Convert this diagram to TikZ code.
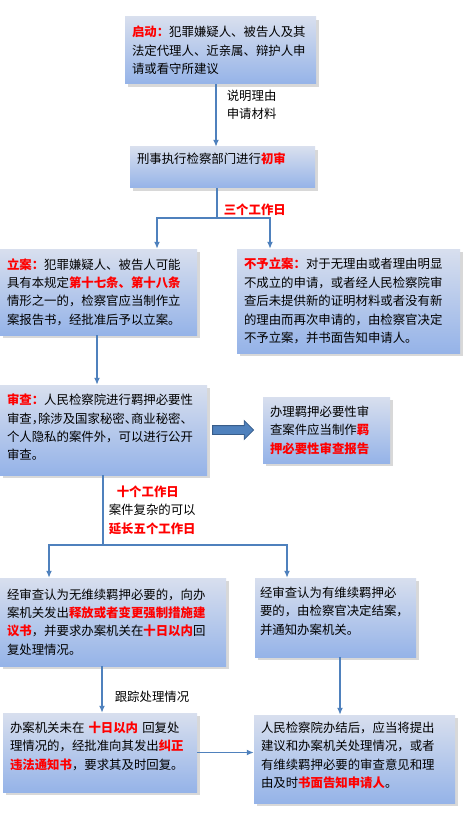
\documentclass[tikz,border=0pt]{standalone}
\usepackage{fontspec}
\setmainfont{Noto Sans CJK SC}
\usepackage{tikz}
\usetikzlibrary{arrows.meta,shapes,shadows,positioning,calc}

\definecolor{boxtop}{RGB}{216,223,238}
\definecolor{boxbot}{RGB}{149,179,232}
\definecolor{flowblue}{RGB}{79,129,189}
\definecolor{arrowedge}{RGB}{56,93,138}

\newcommand{\redb}[1]{\textcolor{red}{\textbf{#1}}}

\tikzset{
  stepbox/.style={rectangle, top color=boxtop, bottom color=boxbot,
                  drop shadow={shadow xshift=3pt, shadow yshift=-3pt, opacity=0.3},
                  inner xsep=7pt, align=left},
  flow/.style={draw=flowblue, line width=1.6pt, -{Latex[length=7pt,width=6pt]}},
  link/.style={draw=flowblue, line width=1.6pt},
  note/.style={inner sep=2pt, align=left},
  bigarrow/.style={single arrow, fill=flowblue, draw=arrowedge, line width=0.8pt,
                   inner xsep=0pt, inner ysep=4pt, text height=0pt, text depth=0pt,
                   single arrow head extend=5pt, minimum height=41pt}
}

\begin{document}
\begin{tikzpicture}[x=1pt, y=-1pt, font=\fontsize{12.4}{18.4}\selectfont]
      \fill[white] (0,0) rectangle (463,818);
      \useasboundingbox (0,0) rectangle (463,818);
      \begin{scope}
        \node[stepbox, text width=177pt, minimum height=67pt] (start) at (220.5,50.5)
          {\redb{启动：}犯罪嫌疑人、被告人及其\\法定代理人、近亲属、辩护人申\\请或看守所建议};
        \node[stepbox, text width=171pt, minimum height=41pt, text depth=18.3pt] (check) at (222.5,167.5)
          {刑事执行检察部门进行\redb{初审}};
        \node[stepbox, text width=183pt, minimum height=86pt] (file) at (98.5,292)
          {\redb{立案：}犯罪嫌疑人、被告人可能\\具有本规定\redb{第十七条、第十八条}\\情形之一的，检察官应当制作立\\案报告书，经批准后予以立案。};
        \node[stepbox, text width=209pt, minimum height=104pt] (reject) at (348.5,301)
          {\redb{不予立案：}对于无理由或者理由明显\\不成立的申请，或者经人民检察院审\\查后未提供新的证明材料或者没有新\\的理由而再次申请的，由检察官决定\\不予立案，并书面告知申请人。};
        \node[stepbox, text width=193pt, minimum height=90pt, text depth=61.5pt] (review) at (103.5,430)
          {\redb{审查：}人民检察院进行羁押必要性\\审查{\addfontfeature{RawFeature=+halt}，}除涉及国家秘密{\addfontfeature{RawFeature=+halt}、}商业秘密{\addfontfeature{RawFeature=+halt}、}\\个人隐私的案件外，可以进行公开\\审查。};
        \node[stepbox, text width=113pt, minimum height=66pt] (report) at (326.5,430)
          {办理羁押必要性审\\查案件应当制作\redb{羁}\\\redb{押必要性审查报告}};
        \node[stepbox, text width=212pt, minimum height=88pt] (release) at (113,622)
          {经审查认为无维续羁押必要的，向办\\案机关发出\redb{释放或者变更强制措施建}\\\redb{议书}，并要求办案机关在\redb{十日以内}回\\复处理情况。};
        \node[stepbox, inner xsep=5pt, text width=151pt, minimum height=79pt, text depth=51.1pt] (keep) at (335.5,617.5)
          {经审查认为有维续羁押必\\要的，由检察官决定结案，\\并通知办案机关。};
        \node[stepbox, text width=180pt, minimum height=79pt, text depth=51.1pt] (notice) at (100,752.5)
          {办案机关未在\ \redb{十日以内}\ 回复处\\理情况的，经批准向其发出\redb{纠正}\\\redb{违法通知书}，要求其及时回复。};
        \node[stepbox, text width=187pt, minimum height=88pt, text depth=63.5pt] (close) at (354.5,759)
          {人民检察院办结后，应当将提出\\建议和办案机关处理情况，或者\\有维续羁押必要的审查意见和理\\由及时\redb{书面告知申请人}。};
        \node[bigarrow, right=5pt of review] (toreport) {};
        %\node at (216,105) {};
        \coordinate (fork1) at (217,218);
        \coordinate (fork1l) at (157,218);
        \coordinate (fork1r) at (270,218);
        \coordinate (fork2) at (103,545);
        \coordinate (fork2l) at (49,545);
        \coordinate (fork2r) at (287,545);
        \draw[flow] ([xshift=-4.5pt]start.south) -- ([xshift=-4.5pt]start.south |- check.north)
          node[note, pos=0.33, right=8pt] {说明理由\\申请材料};
        \draw[link] (check.south -| fork1) -- node[note, pos=0.73, right=4pt] {\redb{三个工作日}} (fork1);
        \draw[flow] (fork1) -- (fork1l) -- (fork1l |- file.north);
        \draw[flow] (fork1) -- (fork1r) -- (fork1r |- reject.north);
        \draw[flow] ([xshift=-1.5pt]file.south) -- ([xshift=-1.5pt]file.south |- review.north);
        \draw[link] (review.south -| fork2) -- node[note, midway, right=3pt]
          {\hspace*{8pt}\redb{十个工作日}\\案件复杂的可以\\\redb{延长五个工作日}} (fork2);
        \draw[flow] (fork2) -- (fork2l) -- (fork2l |- release.north);
        \draw[flow] (fork2) -- (fork2r) -- (fork2r |- keep.north);
        \draw[flow] ([xshift=-11pt]release.south) -- ([xshift=-11pt]release.south |- notice.north)
          node[note, pos=0.66, right=10pt] {跟踪处理情况};
        \draw[flow] ([xshift=4.5pt]keep.south) -- ([xshift=4.5pt]keep.south |- close.north);
        \draw[flow] (notice.east) -- (notice.east -| close.west);
      \end{scope}
    \end{tikzpicture}
\end{document}
